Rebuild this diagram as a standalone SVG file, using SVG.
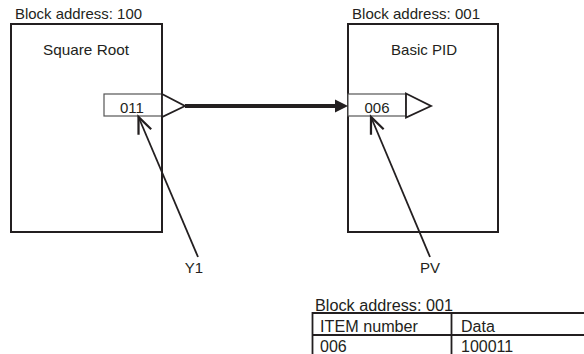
<svg xmlns="http://www.w3.org/2000/svg" width="584" height="354" viewBox="0 0 584 354">
  <style>
    text { font-family: "Liberation Sans", Arial, sans-serif; fill: #231f20; }
    .lbl { font-size: 15px; }
    .tbl { font-size: 16px; }
    .box { fill: #fff; stroke: #231f20; stroke-width: 2; }
    .port { fill: #fff; stroke: #555; stroke-width: 1.2; }
    .tri { fill: #fff; stroke: #231f20; stroke-width: 1.8; stroke-linejoin: miter; }
    .ptr { fill: none; stroke: #231f20; stroke-width: 1.8; }
    .grid { fill: none; stroke: #231f20; stroke-width: 1.8; }
  </style>
  <defs>
    <marker id="openArrow" markerUnits="userSpaceOnUse" markerWidth="20" markerHeight="20" refX="0" refY="0" viewBox="-14 -8 16 16" orient="auto" overflow="visible">
      <path d="M-13,-5.5 L0,0 L-13,5.5" fill="none" stroke="#231f20" stroke-width="1.8"/>
    </marker>
  </defs>

  <g id="block-100">
    <text class="lbl" x="15" y="19" textLength="127" lengthAdjust="spacingAndGlyphs">Block address: 100</text>
    <rect class="box" x="11" y="24" width="151" height="208"/>
    <text class="lbl" x="86" y="55" text-anchor="middle" textLength="86" lengthAdjust="spacingAndGlyphs">Square Root</text>
    <rect class="port" x="104" y="94" width="58" height="22"/>
    <text class="lbl" x="132" y="113" text-anchor="middle">011</text>
    <polygon class="tri" points="162,94 185,106 162,117"/>
  </g>

  <g id="block-001">
    <text class="lbl" x="352" y="19" textLength="128" lengthAdjust="spacingAndGlyphs">Block address: 001</text>
    <rect class="box" x="348" y="24" width="150" height="208"/>
    <text class="lbl" x="424" y="55" text-anchor="middle" textLength="66" lengthAdjust="spacingAndGlyphs">Basic PID</text>
    <rect class="port" x="348" y="94" width="58" height="22"/>
    <text class="lbl" x="377" y="113" text-anchor="middle">006</text>
    <polygon class="tri" points="406,93.5 431,106 406,117.5"/>
  </g>

  <g id="label-y1">
    <text class="lbl" x="194" y="273" text-anchor="middle">Y1</text>
  </g>
  <g id="label-pv">
    <text class="lbl" x="430" y="273" text-anchor="middle">PV</text>
  </g>

  <g id="connectors">
    <line x1="185" y1="106" x2="337" y2="106" stroke="#231f20" stroke-width="4"/>
    <polygon points="335,99.5 348,106 335,112.5" fill="#231f20"/>
    <line class="ptr" x1="198" y1="257" x2="138.5" y2="117" marker-end="url(#openArrow)"/>
    <line class="ptr" x1="430" y1="257" x2="371" y2="117" marker-end="url(#openArrow)"/>
  </g>

  <g id="table-001">
    <text class="tbl" x="315" y="311" textLength="138" lengthAdjust="spacingAndGlyphs">Block address: 001</text>
    <line class="grid" x1="312" y1="313" x2="584" y2="313"/>
    <line class="grid" x1="312" y1="335" x2="584" y2="335"/>
    <line class="grid" x1="312.5" y1="312" x2="312.5" y2="354"/>
    <line class="grid" x1="451.5" y1="313" x2="451.5" y2="354"/>
    <text class="tbl" x="320" y="332" textLength="98" lengthAdjust="spacingAndGlyphs">ITEM number</text>
    <text class="tbl" x="461" y="332">Data</text>
    <text class="tbl" x="320" y="352">006</text>
    <text class="tbl" x="461" y="352">100011</text>
  </g>
</svg>
